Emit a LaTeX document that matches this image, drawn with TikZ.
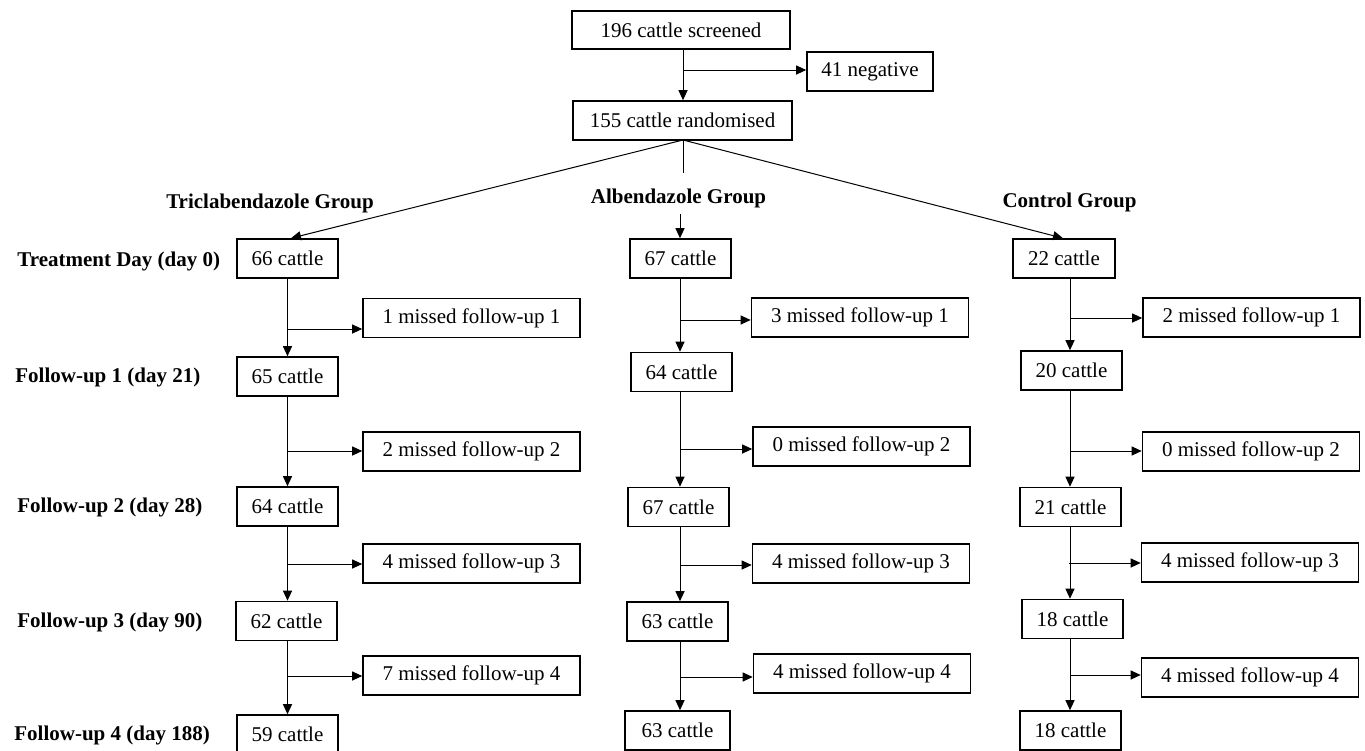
\documentclass[tikz,border=0pt]{standalone}
\usepackage{fontspec}
\setmainfont{Liberation Serif}
\usetikzlibrary{arrows.meta}
\begin{document}
\begin{tikzpicture}[x=0.5pt,y=-0.5pt,
  txt/.style={font=\fontsize{10.5}{12}\selectfont},
  box/.style={txt,draw,line width=0.8pt,inner sep=0pt,minimum height=19.5pt},
  cbox/.style={box,minimum width=50.5pt},
  mbox/.style={box,minimum width=108.5pt},
  grp/.style={font=\fontsize{10.5}{12}\selectfont\bfseries,inner sep=0pt},
  rowlab/.style={grp,anchor=west},
  arr/.style={line width=0.5pt,-{Triangle[length=5pt,width=4.5pt]}},
  ln/.style={line width=0.5pt}]
\path[fill=white,use as bounding box] (0,0) rectangle (1365,750);

% top
\node[box,minimum width=109pt,minimum height=19pt] (scr) at (681,30) {196 cattle screened};
\node[box,minimum width=63pt] (neg) at (870,71.5) {41 negative};
\node[box,minimum width=109.5pt] (rnd) at (682.5,120.5) {155 cattle randomised};
\draw[arr] (scr.south -| 683,0) -- (rnd.north -| 683,0);
\coordinate (jn) at (683,70);
\draw[arr] (jn) -- (jn -| neg.west);

% group labels
\node[grp] (tlab) at (270,203) {Triclabendazole Group};
\node[grp] (alab) at (678.5,198) {Albendazole Group};
\node[grp] (clab) at (1069.5,202) {Control Group};

% row labels
\node[rowlab] (r0) at (17,261) {Treatment Day (day 0)};
\node[rowlab] (r1) at (15,377) {Follow-up 1 (day 21)};
\node[rowlab] (r2) at (17,507) {Follow-up 2 (day 28)};
\node[rowlab] (r3) at (17,622) {Follow-up 3 (day 90)};
\node[rowlab] (r4) at (14,735) {Follow-up 4 (day 188)};

% Triclabendazole column
\node[cbox] (t0) at (287.5,258.5) {66 cattle};
\node[cbox] (t1) at (287.5,376.5) {65 cattle};
\node[cbox] (t2) at (287.5,506.5) {64 cattle};
\node[cbox] (t3) at (286.5,621) {62 cattle};
\node[cbox] (t4) at (287.5,734.5) {59 cattle};
\node[mbox] (m1) at (471.5,318) {1 missed follow-up 1};
\node[mbox] (m2) at (471.5,451.5) {2 missed follow-up 2};
\node[mbox] (m3) at (471.5,563.5) {4 missed follow-up 3};
\node[mbox] (m4) at (471.5,675.5) {7 missed follow-up 4};

% Albendazole column
\node[cbox] (a0) at (680.5,258.5) {67 cattle};
\node[cbox] (a1) at (681.5,372) {64 cattle};
\node[cbox] (a2) at (678.5,507) {67 cattle};
\node[cbox] (a3) at (677.5,621.5) {63 cattle};
\node[cbox,minimum width=52.5pt] (a4) at (677.5,730.5) {63 cattle};
\node[mbox] (b1) at (860,317.5) {3 missed follow-up 1};
\node[mbox] (b2) at (861.5,446.5) {0 missed follow-up 2};
\node[mbox] (b3) at (861,563.5) {4 missed follow-up 3};
\node[mbox] (b4) at (862,673.5) {4 missed follow-up 4};

% Control column
\node[cbox,minimum width=51pt] (c0) at (1064,258.5) {22 cattle};
\node[cbox] (c1) at (1071.5,370.5) {20 cattle};
\node[cbox] (c2) at (1070.5,507) {21 cattle};
\node[cbox] (c3) at (1072.5,619) {18 cattle};
\node[cbox] (c4) at (1070.5,730.5) {18 cattle};
\node[mbox] (d1) at (1251.5,317.5) {2 missed follow-up 1};
\node[mbox] (d2) at (1251,451.5) {0 missed follow-up 2};
\node[mbox] (d3) at (1250,562.5) {4 missed follow-up 3};
\node[mbox] (d4) at (1250,677.5) {4 missed follow-up 4};

% randomisation branches
\coordinate (ap) at (683,140);
\coordinate (mid) at (683,173);
\coordinate (as) at (680,214);
\draw[arr] (ap) -- (t0.north -| 291,0);
\draw[arr] (ap) -- (c0.north -| 1063,0);
\draw[ln] (ap) -- (mid);
\draw[arr] (as) -- (a0.north -| as);

% trunks
\foreach \col/\x in {t/287.5,a/680,c/1070}{
  \foreach \i/\j in {0/1,1/2,2/3,3/4}{
    \draw[arr] (\col\i.south -| \x,0) -- (\col\j.north -| \x,0);
  }
}

% branches to missed boxes
\foreach \x/\y/\b in {287.5/329/m1,287.5/451/m2,287.5/564/m3,288/676/m4,
                      680/320/b1,680/449/b2,680/565/b3,680/677/b4,
                      1070/318/d1,1070/451/d2,1069/563/d3,1070/675/d4}{
  \coordinate (j) at (\x,\y);
  \draw[arr] (j) -- (j -| \b.west);
}
\end{tikzpicture}
\end{document}
